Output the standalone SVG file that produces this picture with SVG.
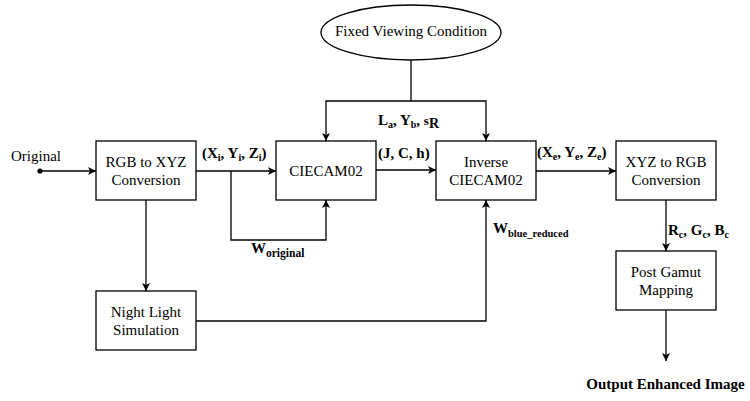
<svg xmlns="http://www.w3.org/2000/svg" width="750" height="401" viewBox="0 0 750 401" font-family="Liberation Serif, DejaVu Serif, serif">
<style>
.box{fill:#fff;stroke:#000;stroke-width:1.3}
.t{font-size:15px;fill:#000}
.c{text-anchor:middle}
.b{font-weight:bold}
.ln{fill:none;stroke:#000;stroke-width:1.3}
.sub{font-size:10px}
</style>
<defs>
<marker id="arr" markerUnits="userSpaceOnUse" viewBox="0 0 10 10" refX="10" refY="5" markerWidth="9" markerHeight="8" orient="auto">
<path d="M0,0 L10,5 L0,10 L2.5,5 z" fill="#000"/>
</marker>
</defs>
<rect width="750" height="401" fill="#fff"/>
<g id="connectors">
<circle cx="40" cy="171" r="2.6" fill="#000"/>
<path class="ln" d="M40,171 H96" marker-end="url(#arr)"/>
<path class="ln" d="M196,171 H276" marker-end="url(#arr)"/>
<path class="ln" d="M231,171 V240 H326 V200" marker-end="url(#arr)"/>
<path class="ln" d="M376,170 H436" marker-end="url(#arr)"/>
<path class="ln" d="M536,171 H616" marker-end="url(#arr)"/>
<path class="ln" d="M411,60 V101"/>
<path class="ln" d="M411,101 H326 V141" marker-end="url(#arr)"/>
<path class="ln" d="M411,101 H486 V141" marker-end="url(#arr)"/>
<path class="ln" d="M146,200 V291" marker-end="url(#arr)"/>
<path class="ln" d="M196,321 H486 V200" marker-end="url(#arr)"/>
<path class="ln" d="M666,200 V251" marker-end="url(#arr)"/>
<path class="ln" d="M666,310 V361" marker-end="url(#arr)"/>
</g>
<g id="labels" font-family="Liberation Serif, DejaVu Serif, serif">
<text class="t" x="11" y="161">Original</text>
<text class="t b" x="202" y="158">(X<tspan class="sub" dy="3">i</tspan><tspan dy="-3">, Y</tspan><tspan class="sub" dy="3">i</tspan><tspan dy="-3">, Z</tspan><tspan class="sub" dy="3">i</tspan><tspan dy="-3">)</tspan></text>
<text class="t b" x="378" y="158">(J, C, h)</text>
<text class="t b" x="537" y="157">(X<tspan class="sub" dy="3">e</tspan><tspan dy="-3">, Y</tspan><tspan class="sub" dy="3">e</tspan><tspan dy="-3">, Z</tspan><tspan class="sub" dy="3">e</tspan><tspan dy="-3">)</tspan></text>
<text class="t b" x="378" y="125">L<tspan class="sub" dy="3">a</tspan><tspan dy="-3">, Y</tspan><tspan class="sub" dy="3">b</tspan><tspan dy="-3">, </tspan><tspan style="font-size:13px">s</tspan><tspan dy="3" style="font-size:14px">R</tspan></text>
<text class="t b" x="251" y="253">W<tspan dy="4" style="font-size:11.5px">original</tspan></text>
<text class="t b" x="493" y="233">W<tspan dy="4" style="font-size:10.5px">blue_reduced</tspan></text>
<text class="t b" x="668" y="235">R<tspan class="sub" dy="3">c</tspan><tspan dy="-3">, G</tspan><tspan class="sub" dy="3">c</tspan><tspan dy="-3">, B</tspan><tspan class="sub" dy="3">c</tspan></text>
<text class="t b c" x="665.5" y="389">Output Enhanced Image</text>
</g>
<g id="fixed-viewing">
<ellipse cx="411" cy="32.5" rx="90" ry="27.5" class="box"/>
<text class="t c" x="411" y="36">Fixed Viewing Condition</text>
</g>
<g id="rgb-to-xyz">
<rect class="box" x="96" y="141" width="100" height="59"/>
<text class="t c" x="146" y="167">RGB to XYZ</text>
<text class="t c" x="146" y="185">Conversion</text>
</g>
<g id="ciecam02">
<rect class="box" x="276" y="141" width="100" height="59"/>
<text class="t c" x="326" y="176">CIECAM02</text>
</g>
<g id="inverse-ciecam02">
<rect class="box" x="436" y="141" width="100" height="59"/>
<text class="t c" x="486" y="167">Inverse</text>
<text class="t c" x="486" y="185">CIECAM02</text>
</g>
<g id="xyz-to-rgb">
<rect class="box" x="616" y="141" width="100" height="59"/>
<text class="t c" x="666" y="167">XYZ to RGB</text>
<text class="t c" x="666" y="185">Conversion</text>
</g>
<g id="night-light">
<rect class="box" x="96" y="291" width="100" height="59"/>
<text class="t c" x="146" y="317">Night Light</text>
<text class="t c" x="146" y="335">Simulation</text>
</g>
<g id="post-gamut">
<rect class="box" x="616" y="251" width="100" height="59"/>
<text class="t c" x="666" y="277">Post Gamut</text>
<text class="t c" x="666" y="295">Mapping</text>
</g>
</svg>
